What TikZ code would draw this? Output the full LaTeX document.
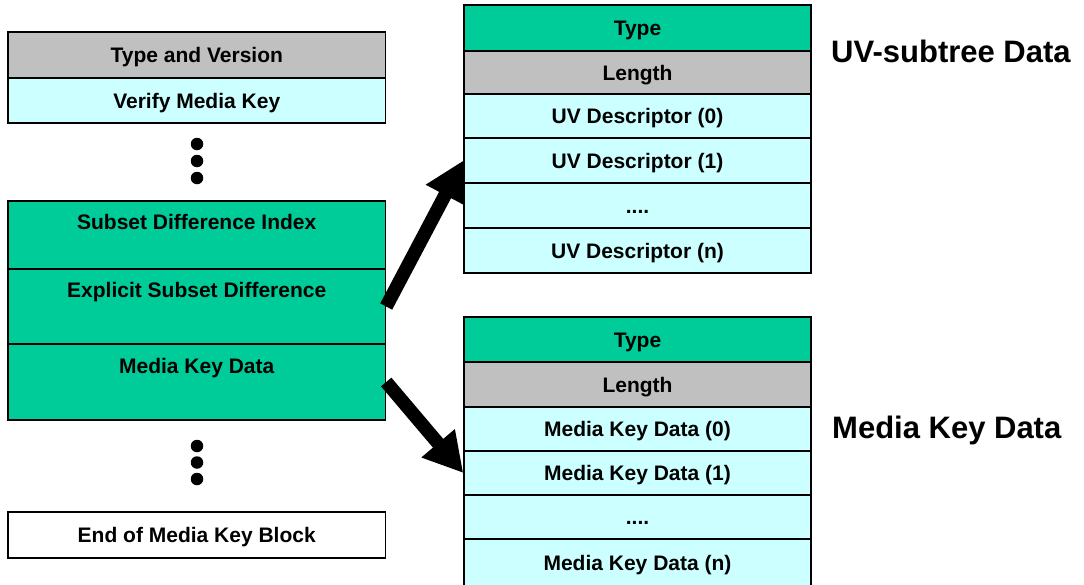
\documentclass[tikz,border=0pt]{standalone}
\usepackage{fontspec}
\setmainfont{Liberation Sans}
\usetikzlibrary{arrows.meta,calc}
\definecolor{mkbgreen}{HTML}{00CC99}
\definecolor{mkbgray}{HTML}{C0C0C0}
\definecolor{mkbcyan}{HTML}{CCFFFF}
\tikzset{
  field/.style={draw=black, line width=1.4pt, inner sep=0pt, anchor=center,
    font=\fontsize{21}{25}\selectfont\bfseries, text height=15pt, text depth=0pt},
  leftfield/.style={field, minimum width=377.5pt},
  rightfield/.style={field, minimum width=347pt},
  fieldtext/.style={inner sep=0pt, anchor=center,
    font=\fontsize{21}{25}\selectfont\bfseries, text height=15pt, text depth=0pt},
  title/.style={inner sep=0pt, anchor=base west,
    font=\fontsize{31}{36}\selectfont\bfseries},
  vdot/.style={circle, fill=black, inner sep=0pt, minimum size=12.5pt},
  bigarrow/.style={line width=13.5pt, line cap=butt,
    -{Triangle[length=39pt,width=41pt]}}
}
\begin{document}
\begin{tikzpicture}[x=1pt, y=-1pt]
\useasboundingbox (0,0) rectangle (1084,584);

% Media Key Block (left column)
\node[leftfield, fill=mkbgray, minimum height=46pt] (tv) at (196.75,55) {Type and Version};
\node[leftfield, fill=mkbcyan, minimum height=45pt] (vmk) at (196.75,100.5) {Verify Media Key};

\node[vdot] (d1) at (197,144) {};
\node[vdot] (d2) at (197,161) {};
\node[vdot] (d3) at (197,178) {};

\node[leftfield, fill=mkbgreen, minimum height=68pt] (sdi) at (196.75,235) {};
\node[leftfield, fill=mkbgreen, minimum height=75pt] (esd) at (196.75,306.5) {};
\node[leftfield, fill=mkbgreen, minimum height=76pt] (mkd) at (196.75,382) {};
\node[fieldtext] (sdit) at ($(sdi.north)+(0,22)$) {Subset Difference Index};
\node[fieldtext] (esdt) at ($(esd.north)+(0,22)$) {Explicit Subset Difference};
\node[fieldtext] (mkdt) at ($(mkd.north)+(0,22.5)$) {Media Key Data};

\node[vdot] (d4) at (197,446) {};
\node[vdot] (d5) at (197,462.5) {};
\node[vdot] (d6) at (197,479) {};

\node[leftfield, fill=white, minimum height=46pt] (end) at (196.75,535) {End of Media Key Block};

% UV-subtree data record
\node[rightfield, fill=mkbgreen, minimum height=46pt] (uvtype) at (637.5,28) {Type};
\node[rightfield, fill=mkbgray, minimum height=43pt] (uvlen) at (637.5,72.5) {Length};
\node[rightfield, fill=mkbcyan, minimum height=44pt] (uv0) at (637.5,116) {UV Descriptor (0)};
\node[rightfield, fill=mkbcyan, minimum height=45pt] (uv1) at (637.5,160.5) {UV Descriptor (1)};
\node[rightfield, fill=mkbcyan, minimum height=45pt] (uvdots) at (637.5,205.5) {....};
\node[rightfield, fill=mkbcyan, minimum height=45pt] (uvn) at (637.5,250.5) {UV Descriptor (n)};

% Media key data record (runs past the lower edge)
\node[rightfield, fill=mkbgreen, minimum height=45pt] (mktype) at (637.5,339.5) {Type};
\node[rightfield, fill=mkbgray, minimum height=45pt] (mklen) at (637.5,384.5) {Length};
\node[rightfield, fill=mkbcyan, minimum height=44pt] (mk0) at (637.5,429) {Media Key Data (0)};
\node[rightfield, fill=mkbcyan, minimum height=44pt] (mk1) at (637.5,473) {Media Key Data (1)};
\node[rightfield, fill=mkbcyan, minimum height=44pt] (mkdots) at (637.5,517) {....};
\node[rightfield, fill=mkbcyan, minimum height=48pt] (mkn) at (637.5,563) {Media Key Data (n)};

% Record titles
\node[title] (uvtitle) at (831,62) {UV-subtree Data};
\node[title] (mktitle) at (832,438) {Media Key Data};

% Pointers from the block fields to their records
\draw[bigarrow] (esd.east) -- (uv1.west);
\draw[bigarrow] (mkd.east) -- (mk1.west);
\end{tikzpicture}
\end{document}
